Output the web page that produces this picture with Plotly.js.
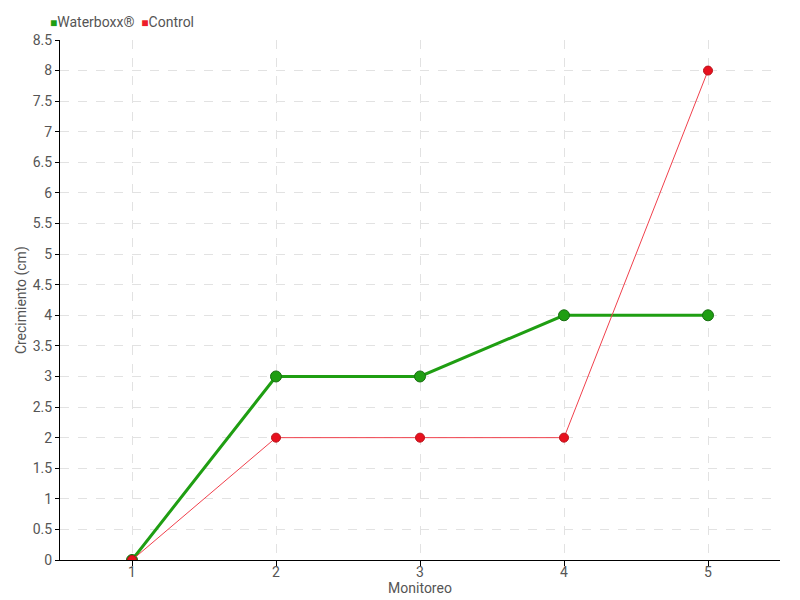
<!DOCTYPE html>
<html><head><meta charset="utf-8">
<script src="https://cdn.plot.ly/plotly-3.0.1.min.js"></script>
<style>body{margin:0}#c{width:800px;height:600px}</style>
</head><body><div id="c"></div>
<script>
const monitoreo = [1, 2, 3, 4, 5];
const waterboxx = [0, 3, 3, 4, 4];
const control = [0, 2, 2, 2, 8];
const yTicks = [0,0.5,1,1.5,2,2.5,3,3.5,4,4.5,5,5.5,6,6.5,7,7.5,8,8.5];
const seriesNames = ['Waterboxx®', 'Control'];
const xTitle = 'Monitoreo';
const yTitle = 'Crecimiento (cm)';

const fam = 'Roboto, "Liberation Sans", sans-serif';
const txt = {family: fam, size: 14, color: '#555'};
const green = '#1f9e12', red = '#ee1c2a';
const traces = [
  {x: monitoreo, y: waterboxx, name: seriesNames[0], mode: 'lines+markers',
   line: {color: green, width: 3},
   marker: {color: green, size: 11, line: {color: '#176e10', width: 1}}},
  {x: monitoreo, y: control, name: seriesNames[1], mode: 'lines+markers',
   line: {color: '#f0404c', width: 1},
   marker: {color: '#e8101e', size: 9, line: {color: '#b81018', width: 1}}}
];
const legendText = '<span style="color:' + green + ';font-size:12px">■</span>' + seriesNames[0] +
  '  <span style="color:' + red + ';font-size:12px">■</span>' + seriesNames[1];
const layout = {
  width: 800, height: 600,
  margin: {l: 60, r: 20, t: 40, b: 40},
  paper_bgcolor: '#fff', plot_bgcolor: '#fff',
  font: txt,
  showlegend: false,
  annotations: [
    {text: legendText, xref: 'paper', yref: 'paper', x: -0.017, y: 1.015,
     xanchor: 'left', yanchor: 'bottom', showarrow: false, font: txt},
    {text: yTitle, xref: 'paper', yref: 'paper', x: -0.054, y: 0.5, textangle: -90,
     xanchor: 'center', yanchor: 'middle', showarrow: false, font: txt}
  ],
  xaxis: {range: [0.5, 5.5], tickvals: monitoreo, ticktext: monitoreo.map(String),
          showgrid: true, gridcolor: '#e2e2e2', griddash: 'dash', zeroline: false,
          showline: true, linecolor: '#000', linewidth: 1,
          ticks: 'outside', ticklen: 5, tickcolor: '#000', ticklabelstandoff: -6,
          title: {text: xTitle, standoff: 0, font: txt},
          tickfont: txt},
  yaxis: {range: [0, 8.5], tickvals: yTicks, ticktext: yTicks.map(String),
          showgrid: true, gridcolor: '#e2e2e2', griddash: 'dash', zeroline: false,
          showline: true, linecolor: '#000', linewidth: 1,
          ticks: 'outside', ticklen: 4, tickcolor: '#000',
          tickfont: txt}
};
Plotly.newPlot('c', traces, layout, {displayModeBar: false});
</script></body></html>
